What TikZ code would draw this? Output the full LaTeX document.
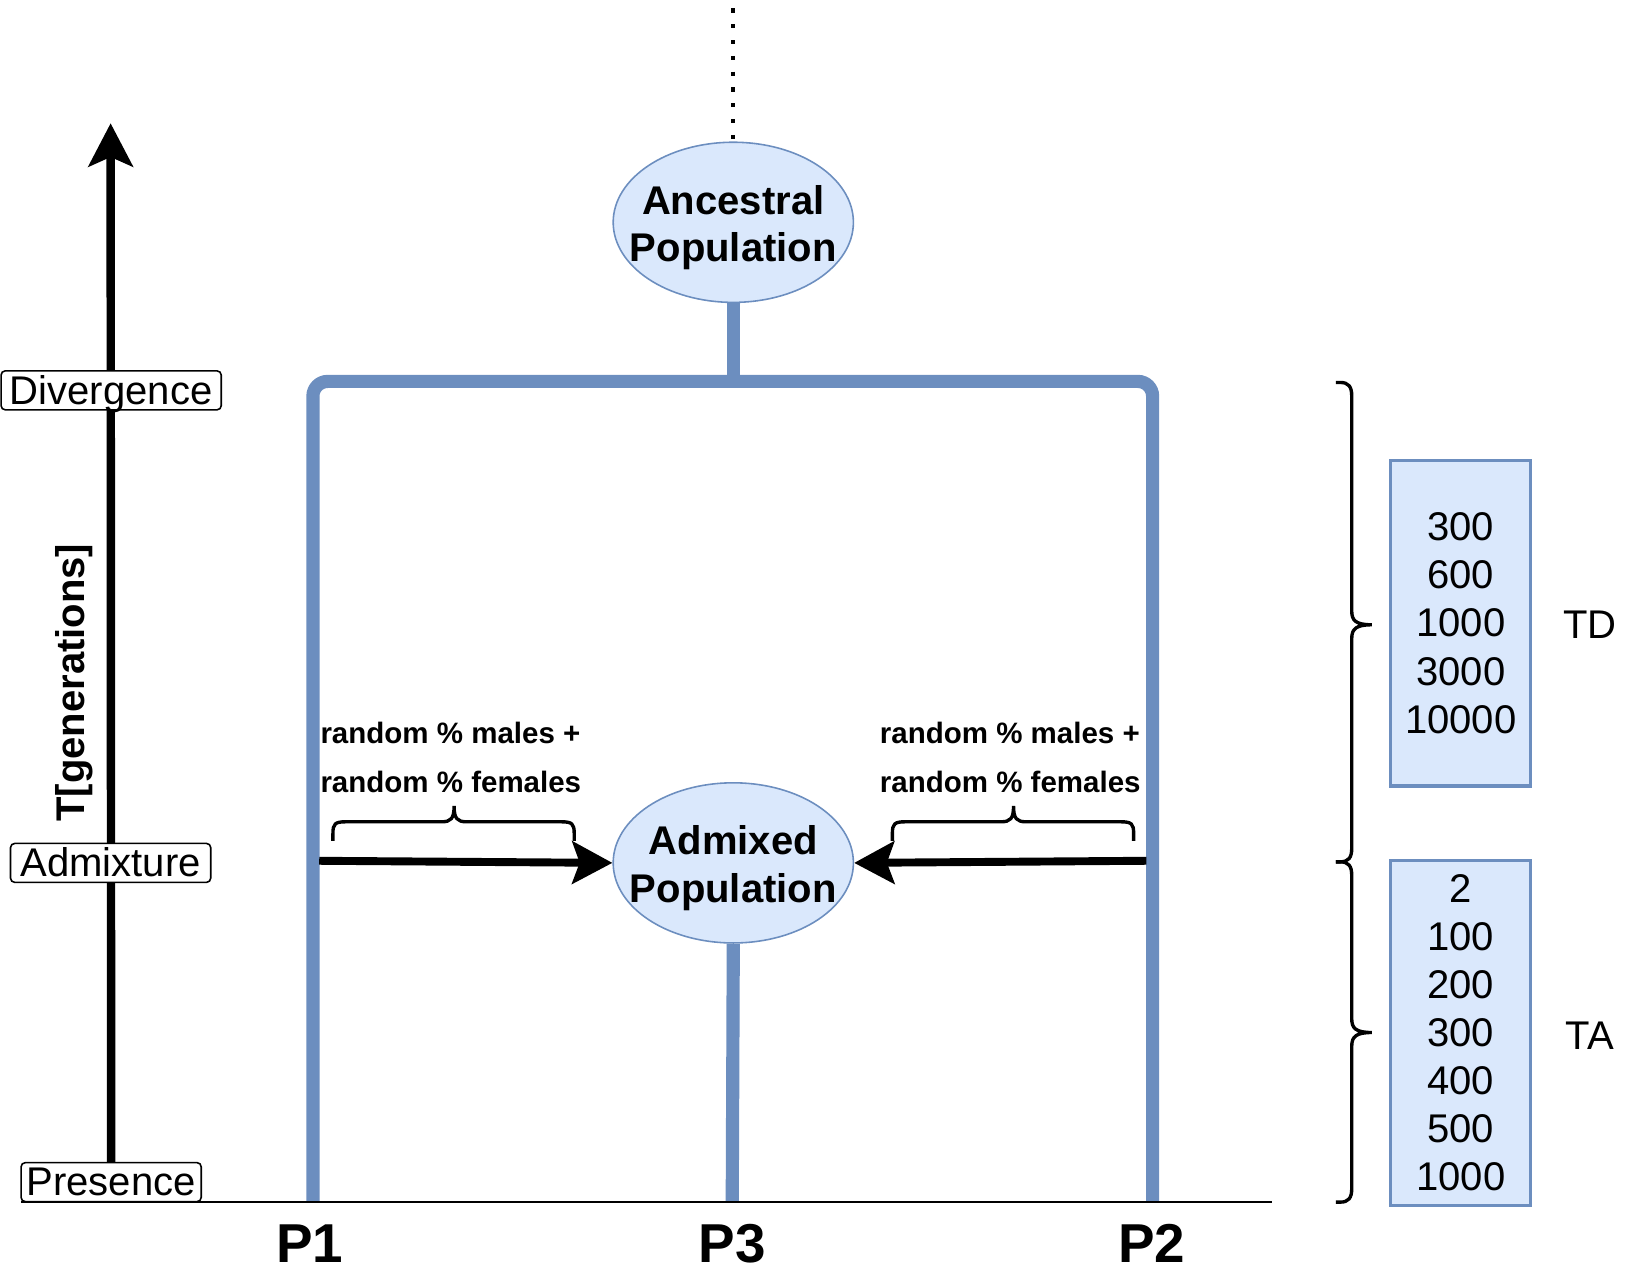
\documentclass[tikz,border=0pt]{standalone}
\usepackage{fontspec}
\setmainfont{Liberation Sans}
\usetikzlibrary{shapes.geometric,arrows.meta,backgrounds}
\definecolor{dfill}{HTML}{DAE8FC}
\definecolor{dstroke}{HTML}{6C8EBF}
\tikzset{
 popell/.style={ellipse, draw=dstroke, fill=dfill, line width=1.5pt, minimum width=228pt, minimum height=152pt, inner sep=0pt},
 poptext/.style={font=\fontsize{38}{45}\selectfont\bfseries, align=center, inner sep=0pt, yshift=-5pt},
 timebox/.style={draw, rounded corners=4pt, fill=white, line width=1.5pt, minimum height=37pt, inner sep=0pt, text height=26pt, text depth=0pt, font=\fontsize{38}{45}\selectfont},
 tree/.style={draw=dstroke, line width=12.5pt},
 valbox/.style={draw=dstroke, fill=dfill, line width=3pt, minimum width=133pt, inner sep=0pt, align=center, font=\fontsize{38}{45.6}\selectfont},
 flow/.style={line width=7.5pt, -{Stealth[length=38pt,width=40pt,inset=7pt]}},
 brc/.style={line width=3.2pt},
 migtext/.style={font=\fontsize{28}{46}\selectfont\bfseries, align=left, inner sep=0pt, anchor=west},
 plabel/.style={font=\fontsize{52}{60}\selectfont\bfseries, inner sep=0pt},
 lbl/.style={font=\fontsize{38}{45}\selectfont, inner sep=0pt},
}
\begin{document}
\begin{tikzpicture}[x=1pt,y=-1pt]
\useasboundingbox (0,0) rectangle (1568,1211);

% populations
\node[popell] (anc) at (696,211) {};
\node[poptext] (anctext) at (anc.center) {Ancestral\\Population};
\node[popell] (adm) at (696,819) {};
\node[poptext] (admtext) at (adm.center) {Admixed\\Population};

% dotted ancestry line
\coordinate (dtop) at (696,8);
\draw[line width=3.5pt, dash pattern=on 4pt off 11pt] (dtop) -- (anc.north);

% tree
\coordinate (split) at (696,362);
\coordinate (p1bot) at (297,1141);
\coordinate (p2bot) at (1094,1141);
\coordinate (p3bot) at (695,1141);
\draw[tree] (anc.south) -- (split);
\draw[tree, rounded corners=14pt] (p1bot) -- (297,362) -- (1094,362) -- (p2bot);
\draw[tree] (adm.south) -- (p3bot);

% time boxes
\node[timebox, minimum width=209pt] (div) at (105.5,370.5) {Divergence};
\node[timebox, minimum width=190pt] (admx) at (105,819) {Admixture};
\node[timebox, minimum width=171pt] (pres) at (105.5,1122) {Presence};
\coordinate (axtop) at (105,117);
\begin{pgfonlayer}{background}
\draw[line width=8pt, -{Stealth[length=41pt,width=42pt,inset=9pt]}] (pres.north) -- (axtop);
\end{pgfonlayer}
\node[lbl, font=\fontsize{38}{45}\selectfont\bfseries, rotate=90] (tgen) at (70,648) {T[generations]};

% baseline
\coordinate (bl0) at (20,1141);
\coordinate (bl1) at (1207,1141);
\draw[line width=1.5pt] (bl0) -- (bl1);

% admixture flows
\coordinate (f1) at (303,817);
\coordinate (f2) at (1088,817);
\draw[flow] (f1) -- (adm.west);
\draw[flow] (f2) -- (adm.east);

% small braces
\draw[brc] (316,798) -- (316,791) .. controls (316,782) and (318,780) .. (328,780) -- (419,780) .. controls (428,780) and (431,777) .. (431,765) .. controls (431,777) and (434,780) .. (443,780) -- (533,780) .. controls (543,780) and (545,782) .. (545,791) -- (545,798);
\draw[brc] (847,798) -- (847,791) .. controls (847,782) and (849,780) .. (859,780) -- (950,780) .. controls (959,780) and (962,777) .. (962,765) .. controls (962,777) and (965,780) .. (974,780) -- (1064,780) .. controls (1074,780) and (1076,782) .. (1076,791) -- (1076,798);

\node[migtext] (m1) at (304,719) {random \% males +\\random \% females};
\node[migtext] (m2) at (835,719) {random \% males +\\random \% females};

% big braces
\draw[brc] (1268,363) -- (1272,363) .. controls (1280,363) and (1283,367) .. (1283,376) -- (1283,580) .. controls (1283,589) and (1287,593) .. (1302,593)
  .. controls (1287,593) and (1283,597) .. (1283,606) -- (1283,805) .. controls (1283,814) and (1280,818) .. (1272,818) -- (1268,818);
\draw[brc] (1268,818) -- (1272,818) .. controls (1280,818) and (1283,822) .. (1283,831) -- (1283,967) .. controls (1283,976) and (1287,980) .. (1302,980)
  .. controls (1287,980) and (1283,984) .. (1283,993) -- (1283,1128) .. controls (1283,1137) and (1280,1141) .. (1272,1141) -- (1268,1141);

% value boxes
\node[valbox, minimum height=309pt] (td) at (1386.5,591.5) {300\\600\\1000\\3000\\10000};
\node[valbox, minimum height=327pt] (ta) at (1386.5,980.5) {2\\100\\200\\300\\400\\500\\1000};
\node[lbl] (tdl) at (1509,593) {TD};
\node[lbl] (tal) at (1509,983) {TA};

% population labels
\node[plabel] (p1) at (294,1180) {P1};
\node[plabel] (p3) at (695,1180) {P3};
\node[plabel] (p2) at (1093,1180) {P2};
\end{tikzpicture}
\end{document}
